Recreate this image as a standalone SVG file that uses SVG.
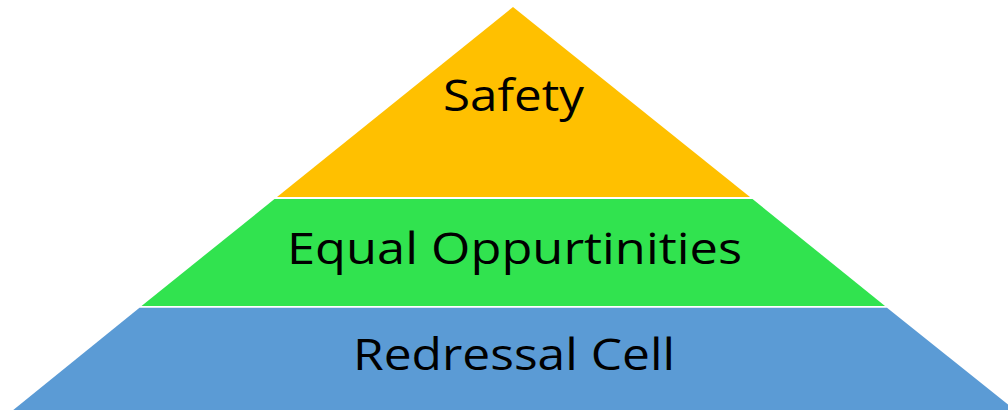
<svg xmlns="http://www.w3.org/2000/svg" width="1008" height="410" viewBox="0 0 1008 410">
<style>
.lbl{font-family:"Open Sans","Noto Sans","Liberation Sans",sans-serif;font-size:44px;fill:#000;text-anchor:middle}
</style>
<rect width="1008" height="410" fill="#fff"/>
<g id="safety">
<polygon points="513,7 277,197 750,197" fill="#FFC000"/>
<text class="lbl" x="513.5" y="111" textLength="141" lengthAdjust="spacingAndGlyphs">Safety</text>
</g>
<g id="equal">
<polygon points="274.5,199 752.5,199 885,306 141.5,306" fill="#31E34F"/>
<text class="lbl" x="514.5" y="264" textLength="455" lengthAdjust="spacingAndGlyphs">Equal Oppurtinities</text>
</g>
<g id="redressal">
<polygon points="139.5,307.8 887,307.8 1016,411 12,411" fill="#5B9BD5"/>
<text class="lbl" x="514" y="370" textLength="322" lengthAdjust="spacingAndGlyphs">Redressal Cell</text>
</g>
<g id="connectors"/>
</svg>
